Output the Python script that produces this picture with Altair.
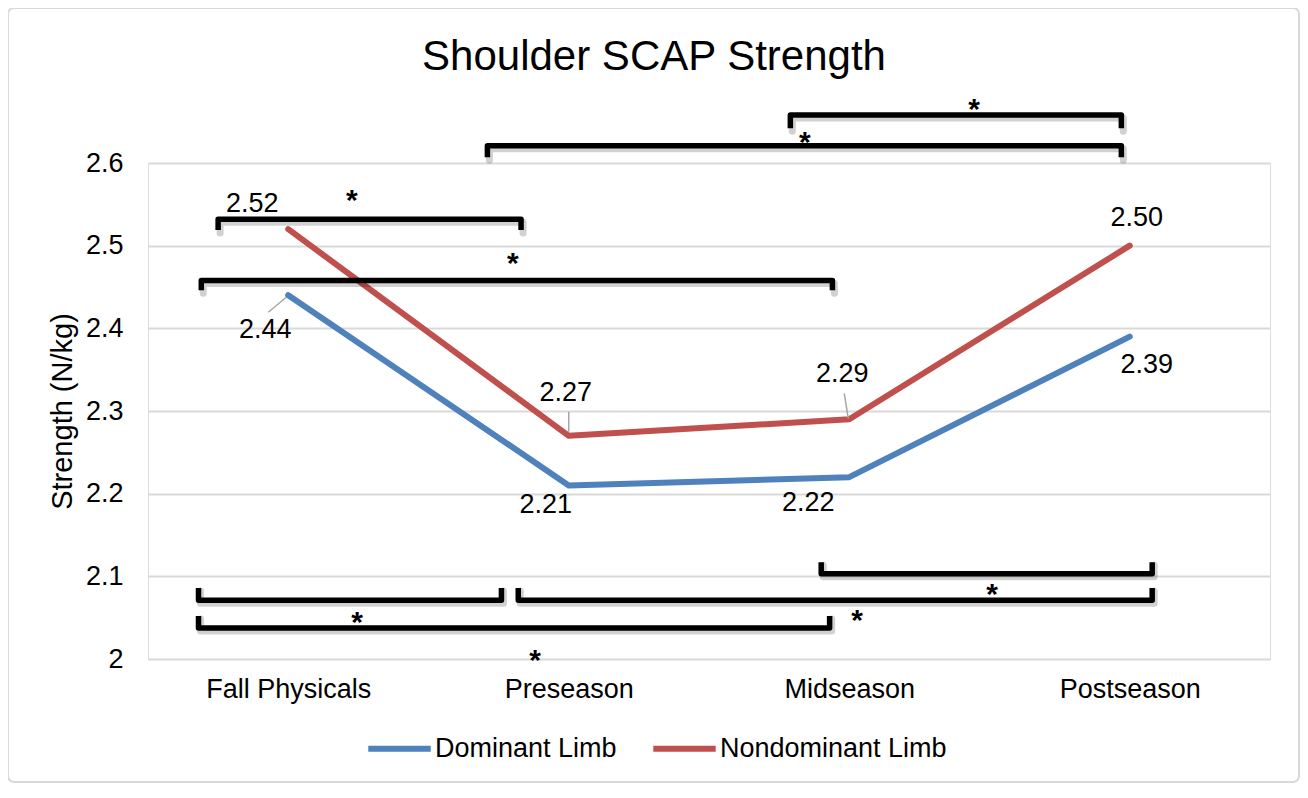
import altair as alt
import pandas as pd

FONT = "Liberation Sans"

CATEGORIES = ["Fall Physicals", "Preseason", "Midseason", "Postseason"]
SERIES = ["Dominant Limb", "Nondominant Limb"]
DOMINANT = [2.44, 2.21, 2.22, 2.39]
NONDOMINANT = [2.52, 2.27, 2.29, 2.50]
COLORS = ["#4F81BD", "#C0504D"]
Y_TICKS = [2.0, 2.1, 2.2, 2.3, 2.4, 2.5, 2.6]

# significance brackets (in data units: category index / strength)
BRACKET_X0 = [1.79, 0.71, -0.25, -0.31, 1.90, 0.82, -0.32, -0.32]
BRACKET_X1 = [2.97, 2.97, 0.83, 1.94, 3.08, 3.08, 0.76, 1.93]
BRACKET_Y = [2.658, 2.621, 2.532, 2.458, 2.103, 2.071, 2.071, 2.0375]
BRACKET_TIP = [2.642, 2.607, 2.519, 2.446, 2.117, 2.086, 2.086, 2.052]
STAR_X = [2.445, 1.842, 0.227, 0.801, 2.509, 2.028, 0.245, 0.880]
STAR_Y = [2.674, 2.634, 2.564, 2.487, 2.087, 2.056, 2.053, 2.007]

# data label pixel offsets (style): (series, index) -> (dx, dy)
LABEL_OFFSETS = {
    (0, 0): (-23, 35), (0, 1): (-23, 20), (0, 2): (-41, 26), (0, 3): (17, 28),
    (1, 0): (-36, -25), (1, 1): (-3, -43), (1, 2): (-7, -45), (1, 3): (7, -28),
}
# leader lines (style): (series, index) -> (x start, y start, x end, y end) pixel offsets
LEADERS = {
    (0, 0): (-20, 17, -2, 2),
    (1, 1): (0, -24, 0, -4),
    (1, 2): (-5, -26, -1, -1),
}

W, H = 1122, 496
FS = 27

line_df = pd.DataFrame({
    "idx": list(range(4)) * 2,
    "value": DOMINANT + NONDOMINANT,
    "series": [SERIES[0]] * 4 + [SERIES[1]] * 4,
    "s": [0] * 4 + [1] * 4,
    "label": [f"{v:.2f}" for v in DOMINANT + NONDOMINANT],
})

rows = []
for b in range(len(BRACKET_X0)):
    pts = [(BRACKET_X0[b], BRACKET_TIP[b]), (BRACKET_X0[b], BRACKET_Y[b]),
           (BRACKET_X1[b], BRACKET_Y[b]), (BRACKET_X1[b], BRACKET_TIP[b])]
    for o, (xx, yy) in enumerate(pts):
        rows.append({"bracket": b, "order": o, "idx": xx, "value": yy})
bracket_df = pd.DataFrame(rows)
star_df = pd.DataFrame({"idx": STAR_X, "value": STAR_Y, "t": ["*"] * len(STAR_X)})

label_expr = "[" + ",".join(f"'{c}'" for c in CATEGORIES) + "][datum.value]"

X = alt.X("idx:Q",
          scale=alt.Scale(domain=[-0.5, 3.5], nice=False, zero=False),
          axis=alt.Axis(values=[0, 1, 2, 3], labelExpr=label_expr, title=None,
                        grid=False, ticks=False, domain=False, labelFontSize=FS,
                        labelFont=FONT, labelColor="black", labelPadding=17))
Y = alt.Y("value:Q",
          scale=alt.Scale(domain=[2.0, 2.6], nice=False, zero=False),
          axis=alt.Axis(values=Y_TICKS, labelExpr="format(datum.value, '~g')",
                        title="Strength (N/kg)", titleFontSize=29, titleFont=FONT,
                        titleFontWeight="normal", titleColor="black", titlePadding=8,
                        grid=True, gridColor="#D9D9D9", gridWidth=2, domain=False,
                        ticks=False, labelPadding=25, labelFontSize=FS, labelFont=FONT,
                        labelColor="black"))

frame = alt.Chart(pd.DataFrame({"a": [0]})).mark_rect(
    fill="white", fillOpacity=0, stroke="#D9D9D9", strokeWidth=2, cornerRadius=6
).encode(x=alt.value(-140), x2=alt.value(W + 29), y=alt.value(-155), y2=alt.value(H + 123))

lines = alt.Chart(line_df).mark_line(strokeWidth=6, strokeCap="round", strokeJoin="round").encode(
    x=X, y=Y,
    color=alt.Color("series:N", scale=alt.Scale(domain=SERIES, range=COLORS),
                    legend=alt.Legend(title=None, orient="none", legendX=217, legendY=551,
                                      direction="horizontal", symbolType="stroke",
                                      symbolSize=3900, symbolStrokeWidth=6,
                                      labelFontSize=FS, labelFont=FONT, labelColor="black",
                                      labelLimit=0, columnPadding=24, labelOffset=1,
                                      padding=0)),
    order="idx:Q",
)

bracket_shadow = alt.Chart(bracket_df).mark_line(
    color="black", opacity=0.18, strokeWidth=7, strokeJoin="round", strokeCap="round",
    xOffset=2, yOffset=3
).encode(x=X, y=Y, detail="bracket:N", order="order:Q")

brackets = alt.Chart(bracket_df).mark_line(
    color="black", strokeWidth=5.5, strokeJoin="round", strokeCap="butt"
).encode(x=X, y=Y, detail="bracket:N", order="order:Q")

stars = alt.Chart(star_df).mark_text(
    font=FONT, fontSize=30, fontWeight="bold", color="black", baseline="alphabetic", dy=17
).encode(x=X, y=Y, text="t:N")

layers = [frame, lines, bracket_shadow, brackets, stars]

for (s, i), (dx0, dy0, dx1, dy1) in LEADERS.items():
    layers.append(
        alt.Chart(line_df).transform_filter(
            f"datum.s == {s} && datum.idx == {i}"
        ).mark_rule(color="#A6A6A6", strokeWidth=1.5,
                    xOffset=dx0, yOffset=dy0, x2Offset=dx1, y2Offset=dy1
        ).encode(x=X, y=Y, x2="idx:Q", y2="value:Q")
    )

for (s, i), (dx, dy) in LABEL_OFFSETS.items():
    layers.append(
        alt.Chart(line_df).transform_filter(
            f"datum.s == {s} && datum.idx == {i}"
        ).mark_text(font=FONT, fontSize=FS, color="black", align="center",
                    baseline="middle", dx=dx, dy=dy
        ).encode(x=X, y=Y, text="label:N")
    )

chart = alt.layer(*layers).properties(
    width=W, height=H,
    autosize=alt.AutoSizeParams(type="none"),
    padding={"left": 140, "top": 155, "right": 30, "bottom": 129},
    title=alt.Title("Shoulder SCAP Strength", fontSize=42, font=FONT, fontWeight="normal",
                    color="black", anchor="middle", offset=-72, dx=-55),
).configure_view(stroke=None).configure(background="white")

chart.save("out.html", embed_options={"renderer": "svg", "actions": False})
